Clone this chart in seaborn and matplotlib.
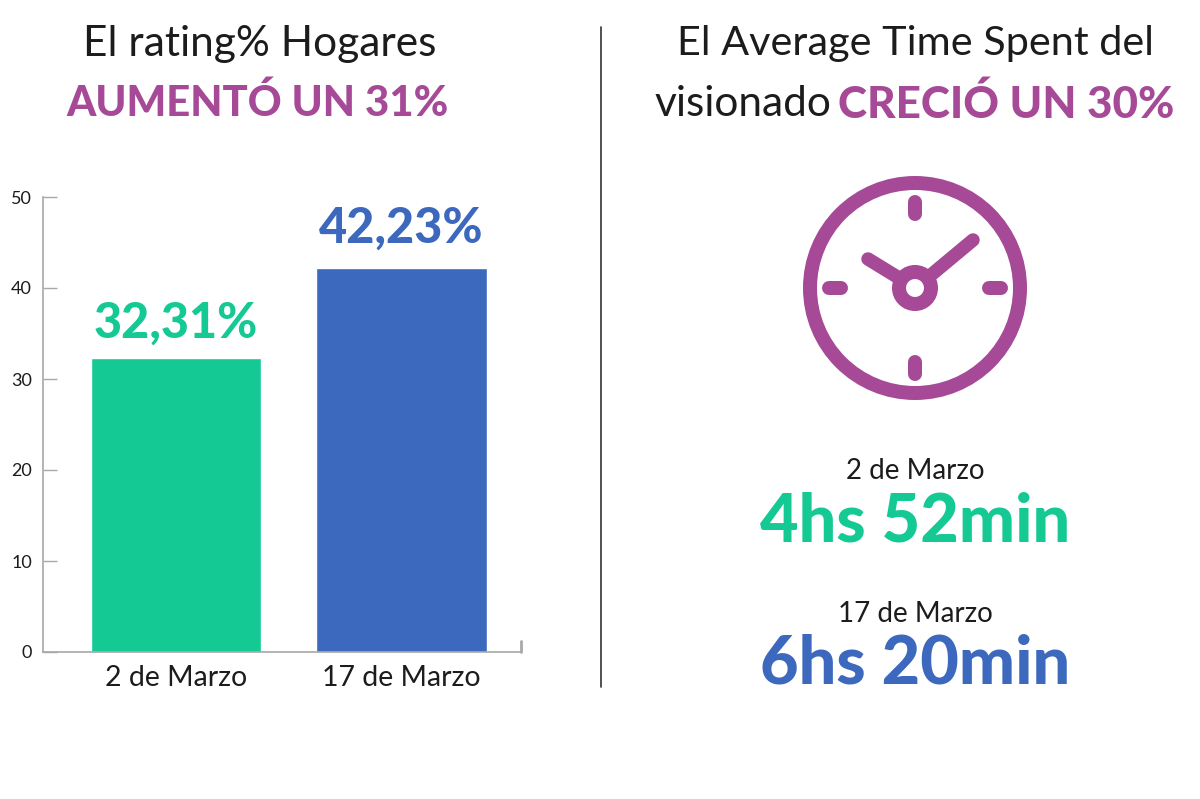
import matplotlib
matplotlib.use('Agg')
from matplotlib import pyplot as plt
from matplotlib.patches import Circle
import seaborn as sns
import pandas as pd

dates = ['2 de Marzo', '17 de Marzo']
rating = [32.31, 42.23]
rating_labels = ['32,31%', '42,23%']
times = ['4hs 52min', '6hs 20min']
y_ticks = [0, 10, 20, 30, 40, 50]

GREEN = '#15C994'
BLUE = '#3C69BD'
PURPLE = '#A64A97'
BLACK = '#1c1c1c'
GREY = '#a8a8a8'

sns.set_theme(style='white')
plt.rcParams['font.family'] = ['Lato', 'DejaVu Sans']

W, H = 1200, 799
fig = plt.figure(figsize=(12, 7.99), dpi=100, facecolor='white')

# capa completa en pixeles para textos y reloj
bg = fig.add_axes([0, 0, 1, 1])
bg.set_xlim(0, W)
bg.set_ylim(H, 0)
bg.axis('off')

# barras
ax = fig.add_axes([43 / W, 1 - 652 / H, (521 - 43) / W, (652 - 197) / H])
ax.patch.set_alpha(0)
df = pd.DataFrame({'fecha': dates, 'rating': rating})
sns.barplot(data=df, x='fecha', y='rating', hue='fecha', palette=[GREEN, BLUE],
            width=0.754, saturation=1, legend=False, ax=ax)
ax.set_xlim(-0.59, 1.53)
ax.set_ylim(0, 50)
ax.set_yticks(y_ticks)
ax.set_xlabel('')
ax.set_ylabel('')
ax.tick_params(axis='y', left=True, direction='in', length=10, width=1, color=GREY,
               labelsize=13, labelcolor=BLACK, pad=8)
ax.tick_params(axis='x', length=0, labelsize=20.5, labelcolor=BLACK, pad=9)
sns.despine(ax=ax)
for s in ['left', 'bottom']:
    ax.spines[s].set_color(GREY)
    ax.spines[s].set_linewidth(1.2)
ax.axvline(1.53, ymin=0, ymax=0.025, color=GREY, lw=2, clip_on=False)

for i, (v, lab) in enumerate(zip(rating, rating_labels)):
    ax.annotate(lab, (i, v), xytext=(0, [9, 12][i]), textcoords='offset points', ha='center',
                va='bottom', fontsize=35, fontweight='black',
                color=[GREEN, BLUE][i])


def txt(x, y, s, size, color=BLACK, weight='normal', **kw):
    return bg.text(x, y, s, fontsize=size, color=color, fontweight=weight, ha='center',
                   va='center', **kw)


txt(260, 44, 'El rating% Hogares', 30.5)
txt(258, 103, 'AUMENTÓ UN 31%', 30.2, PURPLE, 'black')
txt(915, 43, 'El Average Time Spent del', 29.8)
bg.annotate('visionado', (655, 104), ha='left', va='center', fontsize=30.5, color=BLACK)
bg.annotate('CRECIÓ UN 30%', (1174, 104), ha='right', va='center', fontsize=31.7,
            color=PURPLE, fontweight='black')

txt(915, 471, dates[0], 20)
txt(915, 522, times[0], 48, GREEN, 'black')
txt(915, 614, dates[1], 20)
txt(915, 665, times[1], 48, BLUE, 'black')

# separador
bg.plot([601, 601], [27, 687], color='#333333', lw=1.2)

# reloj
cx, cy = 915, 288
bg.add_patch(Circle((cx, cy), 105, fill=False, ec=PURPLE, lw=14 * 0.72))
bg.add_patch(Circle((cx, cy), 16, fill=False, ec=PURPLE, lw=14 * 0.72))
for dx, dy in [(0, -80), (0, 80), (-80, 0), (80, 0)]:
    bg.plot([cx + dx * 0.925, cx + dx * 1.075], [cy + dy * 0.925, cy + dy * 1.075],
            color=PURPLE, lw=14 * 0.72, solid_capstyle='round')
for tx, ty in [(58, -48), (-47, -29)]:
    sx, sy = (16, -13) if tx > 0 else (-16, -10)
    bg.plot([cx + sx, cx + tx], [cy + sy, cy + ty], color=PURPLE, lw=13.5 * 0.72,
            solid_capstyle='round')

fig.savefig('out.png', dpi=100)
